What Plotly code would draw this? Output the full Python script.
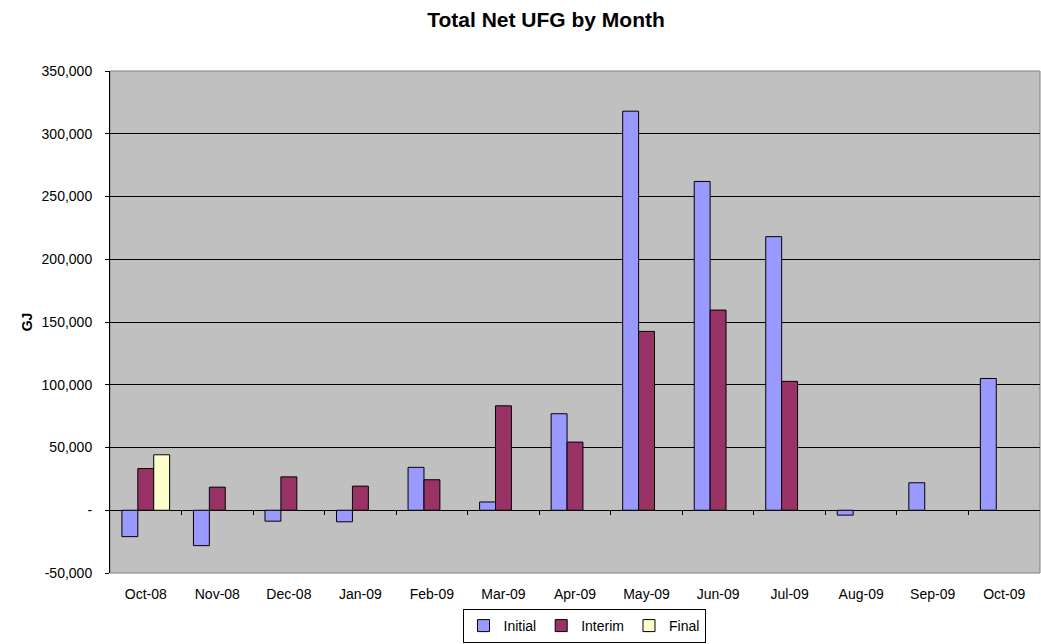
import plotly.graph_objects as go

months = ["Oct-08", "Nov-08", "Dec-08", "Jan-09", "Feb-09", "Mar-09", "Apr-09",
          "May-09", "Jun-09", "Jul-09", "Aug-09", "Sep-09", "Oct-09"]
initial = [-21000, -28200, -8700, -9200, 34200, 6600, 76900,
           318000, 262000, 218000, -3900, 21900, 105000]
interim = [33200, 18400, 26600, 19200, 24300, 83200, 54300,
           142500, 159500, 102700, None, None, None]
final = [44200, None, None, None, None, None, None,
         None, None, None, None, None, None]

y_ticks = [-50000, 0, 50000, 100000, 150000, 200000, 250000, 300000, 350000]
y_tick_text = ["-50,000", "-", "50,000", "100,000", "150,000", "200,000",
               "250,000", "300,000", "350,000"]

series = [("Initial", initial, "#9999FF"),
          ("Interim", interim, "#993366"),
          ("Final", final, "#FFFFCC")]

FONT = "Liberation Sans, Arial, sans-serif"

fig = go.Figure()
for name, vals, color in series:
    fig.add_trace(go.Bar(
        name=name, x=months, y=vals,
        marker=dict(color=color, line=dict(color="black", width=1)),
    ))

idx = list(range(len(months)))
fig.update_layout(
    width=1041, height=644,
    paper_bgcolor="white", plot_bgcolor="#C0C0C0",
    margin=dict(l=110, r=1, t=71, b=71, autoexpand=False),
    barmode="group", bargap=0.333, bargroupgap=0,
    font=dict(family=FONT, size=14, color="black"),
    title=dict(text="<b>Total Net UFG by Month</b>", x=546 / 1041, xanchor="center",
               xref="container", y=1 - 20 / 644, yanchor="middle", yref="container",
               font=dict(family=FONT, size=21, color="black")),
    xaxis=dict(type="category", categoryarray=months, showgrid=False,
               showline=False, zeroline=False, ticks="", tickangle=0,
               ticklabelstandoff=11,
               automargin=False, tickfont=dict(size=14), range=[-0.5, 12.5]),
    xaxis2=dict(overlaying="x", anchor="free", position=(0 - (-50000)) / 400000,
                range=[-0.5, 12.5], tickvals=[i + 0.5 for i in idx[:-1]],
                ticks="outside", ticklen=4, tickcolor="black", tickwidth=1,
                automargin=False,
                showticklabels=False, showgrid=False, showline=False, zeroline=False),
    yaxis=dict(range=[-50000, 350000], tickvals=y_ticks, ticktext=y_tick_text,
               showgrid=True, gridcolor="black", gridwidth=1,
               zeroline=True, zerolinecolor="black", zerolinewidth=1,
               showline=True, linecolor="black", linewidth=1,
               ticks="outside", ticklen=4, tickcolor="black",
               ticklabelstandoff=10,
               automargin=False, tickfont=dict(size=14),
               title=dict(text="<b>GJ</b>", font=dict(size=14), standoff=5)),
    legend=dict(orientation="h", x=584 / 1041, xref="container", xanchor="center",
                y=(644 - 643) / 644, yref="container", yanchor="bottom",
                bordercolor="black", borderwidth=1, bgcolor="white",
                font=dict(size=14), itemwidth=30, traceorder="normal",
                tracegroupgap=0),
    shapes=[dict(type="rect", xref="paper", yref="paper", x0=0, x1=1, y0=0, y1=1,
                 line=dict(color="#808080", width=1), layer="below")],
)
fig.add_trace(go.Scatter(x=[None], y=[None], xaxis="x2", showlegend=False, hoverinfo="skip"))

fig.write_html("out.html", config={"displayModeBar": False},
               post_script="document.body.style.margin='0';")
